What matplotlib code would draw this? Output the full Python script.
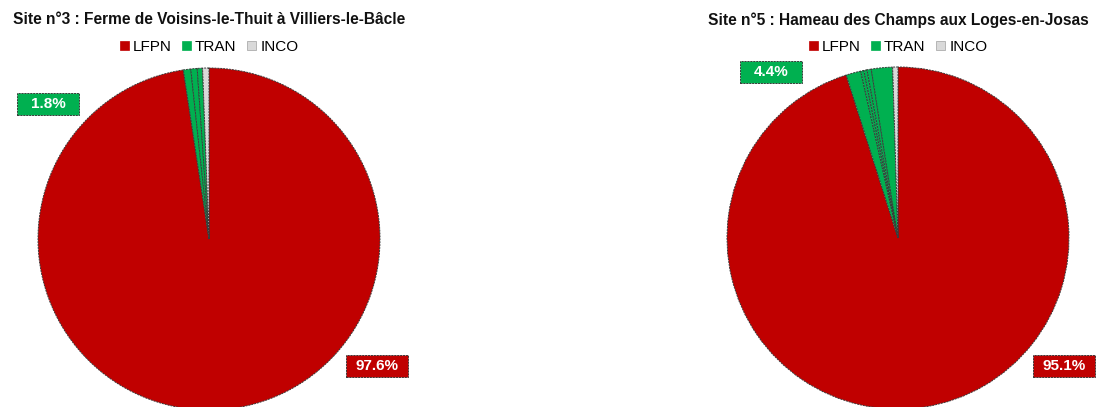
import matplotlib.pyplot as plt
from matplotlib.patches import Patch, Rectangle

plt.rcParams['font.family'] = ['Liberation Sans', 'DejaVu Sans']

# Données : part des groupes d'espèces par site (%)
categories = ['LFPN', 'TRAN', 'INCO']
site3_titre = 'Site n°3 : Ferme de Voisins-le-Thuit à Villiers-le-Bâcle'
site3_lfpn = 97.6
site3_tran = [0.7, 0.6, 0.5]   # détail des espèces du groupe TRAN
site3_inco = 0.6

site5_titre = 'Site n°5 : Hameau des Champs aux Loges-en-Josas'
site5_lfpn = 95.1
site5_tran = [1.4, 0.3, 0.3, 0.4, 2.0]
site5_inco = 0.5

couleurs = {'LFPN': '#C00000', 'TRAN': '#00B050', 'INCO': '#D9D9D9'}
bord = '#3A3A3A'

W, H = 1096, 407
R = 171  # rayon en pixels
fig = plt.figure(figsize=(W / 100, H / 100), dpi=100)


def camembert(x0, cx, cy, titre, lfpn, tran, inco, pos_tran, pos_lfpn):
    # axe sur une moitié de la figure, 1 unité = R pixels
    largeur = W / 2
    ax = fig.add_axes([x0 / W, 0, largeur / W, 1])

    valeurs = [lfpn] + tran + [inco]
    cols = [couleurs['LFPN']] + [couleurs['TRAN']] * len(tran) + [couleurs['INCO']]
    ax.pie(valeurs, colors=cols, startangle=90, counterclock=False, radius=1,
           wedgeprops=dict(edgecolor=bord, linewidth=0.7, linestyle=(0, (2, 1))),
           frame=True)
    ax.set_xlim(-(cx - x0) / R, (x0 + largeur - cx) / R)
    ax.set_ylim(-(H - cy) / R, cy / R)
    ax.set_aspect('auto')
    ax.axis('off')

    # étiquettes de valeur
    bw, bh = 62 / R, 22 / R
    for (px, py), val, col in [(pos_tran, sum(tran), couleurs['TRAN']),
                               (pos_lfpn, lfpn, couleurs['LFPN'])]:
        ax.add_patch(Rectangle((px - bw / 2, py - bh / 2), bw, bh, facecolor=col,
                               edgecolor=bord, linewidth=0.7, linestyle=(0, (2, 1)),
                               clip_on=False, zorder=5))
        ax.text(px, py, f'{val:.1f}%', color='white', fontsize=11, fontweight='bold',
                ha='center', va='center', zorder=6)

    # titre et légende
    ax.text(0, (cy - 20) / R, titre, fontsize=11.2, fontweight='bold',
            ha='center', va='center', color='#111111')
    poignees = [Patch(facecolor=couleurs[c], edgecolor=couleurs[c] if c != 'INCO' else '#A0A0A0',
                      linewidth=0.5) for c in categories]
    ax.legend(poignees, categories, loc='center', ncol=3, frameon=False,
              bbox_to_anchor=(((cx - x0) / largeur), 1 - 47 / H),
              fontsize=11, handlelength=0.6, handleheight=0.6,
              handletextpad=0.25, columnspacing=0.7, borderpad=0)
    return ax


camembert(0, 209, 239, site3_titre, site3_lfpn, site3_tran, site3_inco,
          (-0.94, 0.79), (0.98, -0.74))
camembert(548, 898, 238, site5_titre, site5_lfpn, site5_tran, site5_inco,
          (-0.74, 0.97), (0.97, -0.75))

fig.savefig('out.png', dpi=100, facecolor='white')
